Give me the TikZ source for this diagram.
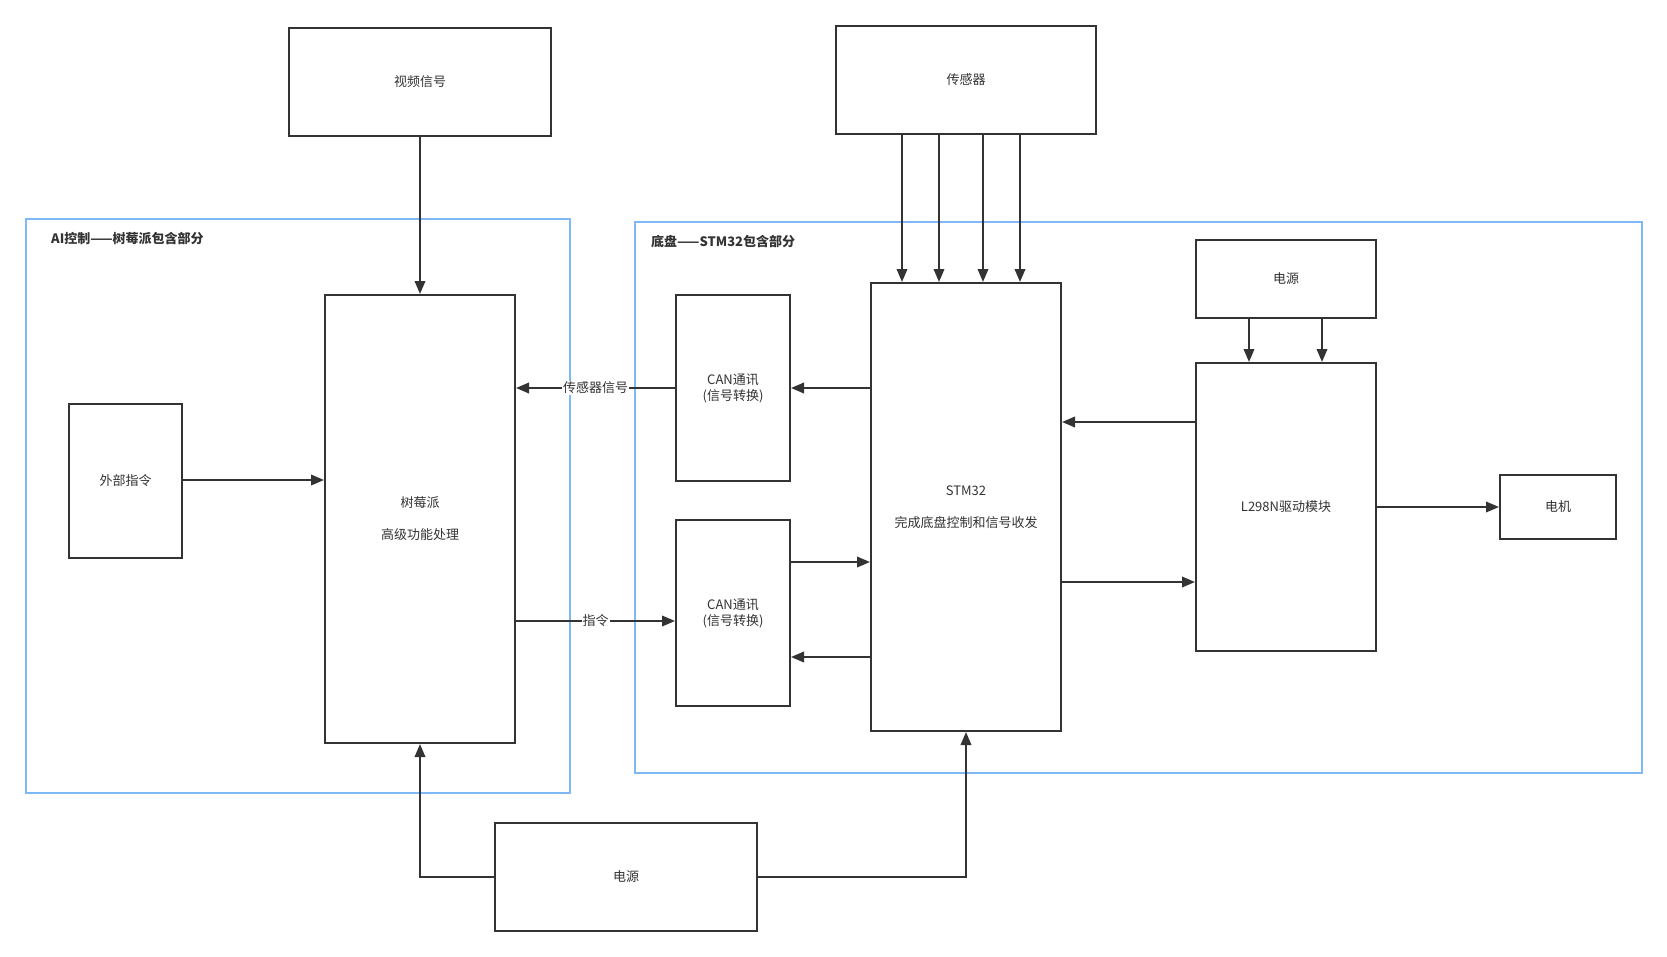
\documentclass[tikz,border=0pt]{standalone}
\usepackage{fontspec}
\setmainfont{Noto Sans CJK SC}
\usetikzlibrary{arrows.meta,calc}
\definecolor{linec}{HTML}{333333}
\definecolor{grpc}{HTML}{7EB8F5}
\definecolor{txtc}{HTML}{333333}
\begin{document}
\begin{tikzpicture}[x=1pt,y=-1pt,
  box/.style={draw=linec, line width=2pt, fill=white, text=txtc, align=center, inner sep=0pt,
    font=\fontsize{13}{16}\selectfont},
  grp/.style={draw=grpc, line width=2pt},
  grptitle/.style={anchor=west, text=txtc, inner sep=0pt, font=\fontsize{13}{16}\selectfont\bfseries},
  arr/.style={draw=linec, line width=2pt, -{Triangle[length=13pt,width=10.5pt]}},
  lbl/.style={fill=white, text=txtc, inner sep=1pt, font=\fontsize{13}{16}\selectfont}]
\useasboundingbox (0,0) rectangle (1667,956);
% groups
\draw[grp] (26,219) rectangle (570,793);
\node[grptitle] (t1) at (51,239) {AI控制——树莓派包含部分};
\draw[grp] (635,222) rectangle (1642,773);
\node[grptitle] (t2) at (651,242) {底盘——STM32包含部分};
% boxes
\node[box, minimum width=262, minimum height=108] (video) at (420,82) {视频信号};
\node[box, minimum width=260, minimum height=108] (sensor) at (966,80) {传感器};
\node[box, minimum width=190, minimum height=448] (pi) at (420,519) {树莓派\\[16pt]高级功能处理};
\node[box, minimum width=113, minimum height=154] (ext) at (125.5,481) {外部指令};
\node[box, minimum width=114, minimum height=186] (can1) at (733,388) {CAN通讯\\(信号转换)};
\node[box, minimum width=114, minimum height=186] (can2) at (733,613) {CAN通讯\\(信号转换)};
\node[box, minimum width=190, minimum height=448] (stm) at (966,507) {STM32\\[16pt]完成底盘控制和信号收发};
\node[box, minimum width=180, minimum height=78] (pwr2) at (1286,279) {电源};
\node[box, minimum width=180, minimum height=288] (l298) at (1286,507) {L298N驱动模块};
\node[box, minimum width=116, minimum height=64] (motor) at (1558,507) {电机};
\node[box, minimum width=262, minimum height=108] (pwr) at (626,877) {电源};
% connectors
\draw[arr] (video.south) -- (pi.north);
\foreach \dx in {-64,-27,17,54}{
  \draw[arr] ([xshift=\dx]sensor.south) -- ([xshift=\dx]stm.north);
}
\draw[arr] (stm.west |- 0,388) -- (can1.east |- 0,388);
\draw[arr] (can1.west |- 0,388) -- node[lbl] {传感器信号} (pi.east |- 0,388);
\draw[arr] (ext.east |- 0,480) -- (pi.west |- 0,480);
\draw[arr] (pi.east |- 0,621) -- node[lbl] {指令} (can2.west |- 0,621);
\draw[arr] (can2.east |- 0,562) -- (stm.west |- 0,562);
\draw[arr] (stm.west |- 0,657) -- (can2.east |- 0,657);
\draw[arr] (l298.west |- 0,422) -- (stm.east |- 0,422);
\draw[arr] (stm.east |- 0,582) -- (l298.west |- 0,582);
\draw[arr] (pwr2.south -| 1249,0) -- (l298.north -| 1249,0);
\draw[arr] (pwr2.south -| 1322,0) -- (l298.north -| 1322,0);
\draw[arr] (l298.east |- motor.west) -- (motor.west);
\draw[arr] (pwr.west) -| (pi.south);
\draw[arr] (pwr.east) -| (stm.south);
\end{tikzpicture}
\end{document}
